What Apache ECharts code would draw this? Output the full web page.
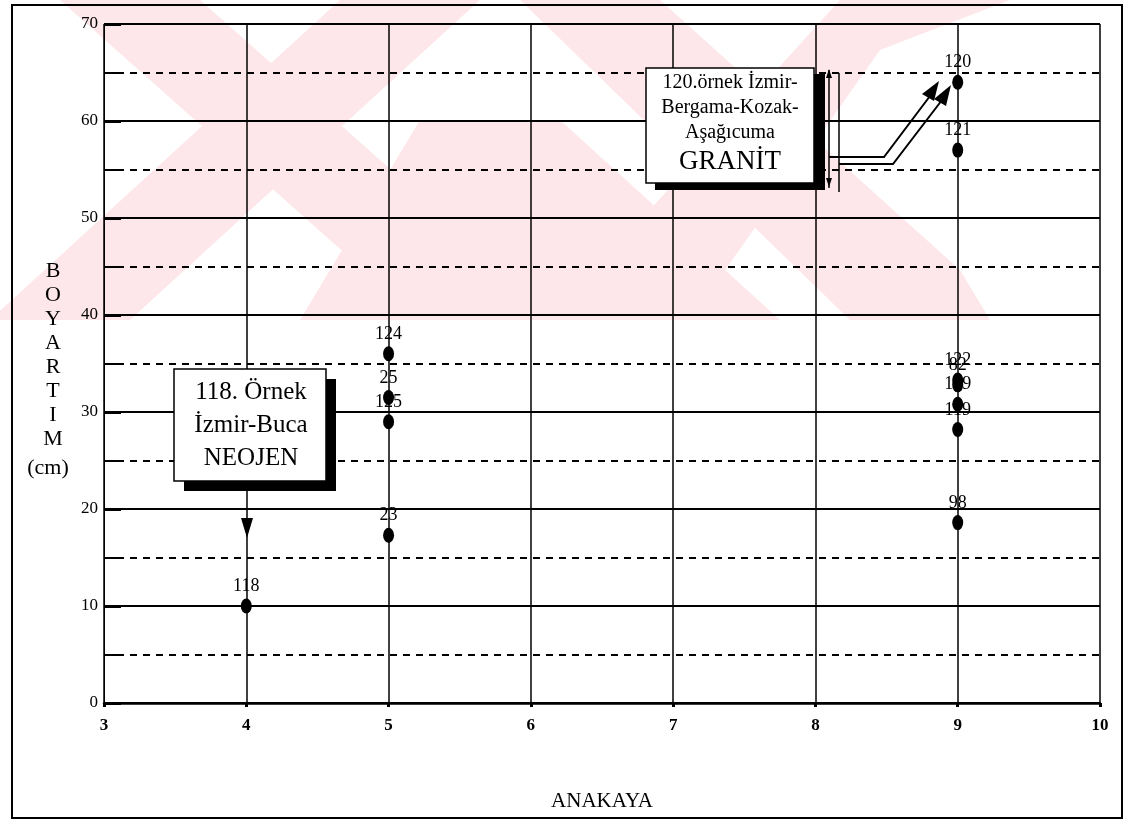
<!DOCTYPE html>
<html>
<head>
<meta charset="utf-8">
<script src="https://cdn.jsdelivr.net/npm/echarts@6/dist/echarts.min.js"></script>
<style>
html, body { margin: 0; padding: 0; background: #fff; }
#chart { width: 1130px; height: 823px; }
</style>
</head>
<body>
<div id="chart"></div>
<script>
// sample numbers, ANAKAYA (x) and BOYARTIM in cm (y)
const sampleNames = ['118', '124', '25', '125', '23', '120', '121', '122', '82', '109', '119', '98'];
const anakaya = [4, 5, 5, 5, 5, 9, 9, 9, 9, 9, 9, 9];
const boyartim = [10, 36, 31.5, 29, 17.3, 64, 57, 33.3, 32.8, 30.8, 28.2, 18.6];

const xTitle = 'ANAKAYA';
const yTitleLetters = ['B', 'O', 'Y', 'A', 'R', 'T', 'I', 'M'];
const yUnit = '(cm)';
const box1Lines = ['118. Örnek', 'İzmir-Buca', 'NEOJEN'];
const box2Lines = ['120.örnek İzmir-', 'Bergama-Kozak-', 'Aşağıcuma', 'GRANİT'];

const serif = '"Liberation Serif", "DejaVu Serif", serif';
const pink = '#fde7ea';

const points = sampleNames.map((n, i) => ({ name: n, value: [anakaya[i], boyartim[i]] }));

// faint watermark behind the plot (scan artefact)
const watermark = [
  { type: 'polygon', z: -10, shape: { points: [[60, 0], [200, 0], [560, 320], [420, 320]] }, style: { fill: pink } },
  { type: 'polygon', z: -10, shape: { points: [[340, 0], [480, 0], [130, 320], [-10, 320]] }, style: { fill: pink } },
  { type: 'polygon', z: -10, shape: { points: [[520, 0], [660, 0], [960, 270], [990, 320], [850, 320]] }, style: { fill: pink } },
  { type: 'polygon', z: -10, shape: { points: [[840, 0], [1010, 0], [880, 50], [690, 320], [550, 320]] }, style: { fill: pink } },
  { type: 'polygon', z: -10, shape: { points: [[420, 120], [560, 120], [780, 320], [300, 320]] }, style: { fill: pink } }
];

const textLine = (t, x, y, size) => ({
  type: 'text', z: 101, x: x, y: y,
  style: { text: t, font: size + 'px ' + serif, fill: '#000', align: 'center', verticalAlign: 'middle' }
});

const annotations = [
  // outer frame
  { type: 'rect', z: 50, shape: { x: 12, y: 5, width: 1110, height: 813 }, style: { fill: 'none', stroke: '#000', lineWidth: 2 } },
  // box 1
  { type: 'rect', z: 100, shape: { x: 184, y: 379, width: 152, height: 112 }, style: { fill: '#000' } },
  { type: 'rect', z: 100, shape: { x: 174, y: 369, width: 152, height: 112 }, style: { fill: '#fff', stroke: '#000', lineWidth: 1.5 } },
  textLine(box1Lines[0], 251, 392, 25),
  textLine(box1Lines[1], 251, 425, 25),
  textLine(box1Lines[2], 251, 458, 25),
  { type: 'polygon', z: 100, shape: { points: [[241, 518], [253, 518], [247, 538]] }, style: { fill: '#000' } },
  // box 2
  { type: 'rect', z: 100, shape: { x: 655, y: 74, width: 170, height: 116 }, style: { fill: '#000' } },
  { type: 'rect', z: 100, shape: { x: 646, y: 68, width: 168, height: 115 }, style: { fill: '#fff', stroke: '#000', lineWidth: 1.5 } },
  textLine(box2Lines[0], 730, 83, 20),
  textLine(box2Lines[1], 730, 108, 20),
  textLine(box2Lines[2], 730, 133, 20),
  textLine(box2Lines[3], 730, 162, 27),
  { type: 'line', z: 100, shape: { x1: 829, y1: 70, x2: 829, y2: 188 }, style: { stroke: '#000', lineWidth: 1.5 } },
  { type: 'polygon', z: 100, shape: { points: [[826, 78], [832, 78], [829, 69]] }, style: { fill: '#000' } },
  { type: 'polygon', z: 100, shape: { points: [[826, 178], [832, 178], [829, 187]] }, style: { fill: '#000' } },
  { type: 'line', z: 100, shape: { x1: 839, y1: 73, x2: 839, y2: 192 }, style: { stroke: '#000', lineWidth: 1.5 } },
  { type: 'polyline', z: 100, shape: { points: [[829, 157], [884, 157], [930, 96]] }, style: { stroke: '#000', lineWidth: 2, fill: 'none' } },
  { type: 'polyline', z: 100, shape: { points: [[839, 164], [893, 164], [942, 100]] }, style: { stroke: '#000', lineWidth: 2, fill: 'none' } },
  { type: 'polygon', z: 100, shape: { points: [[939, 81], [922, 94], [934, 101]] }, style: { fill: '#000' } },
  { type: 'polygon', z: 100, shape: { points: [[951, 85], [934, 99], [946, 106]] }, style: { fill: '#000' } },
  // y axis title, stacked letters
  ...yTitleLetters.map((c, i) => textLine(c, 53, 271 + i * 24, 22)),
  textLine(yUnit, 48, 468, 22)
];

const chart = echarts.init(document.getElementById('chart'));
chart.setOption({
  backgroundColor: '#fff',
  animation: false,
  grid: { left: 104, right: 30, top: 24, bottom: 120 },
  xAxis: {
    type: 'value', min: 3, max: 10, interval: 1,
    name: xTitle, nameLocation: 'middle', nameGap: 88,
    nameTextStyle: { fontFamily: serif, fontSize: 21, color: '#000' },
    axisLine: { lineStyle: { color: '#000', width: 2.5 } },
    axisTick: { show: true, length: 4, lineStyle: { color: '#000', width: 3 } },
    axisLabel: { fontFamily: serif, fontSize: 17, fontWeight: 'bold', color: '#000', margin: 14 },
    splitLine: { show: true, lineStyle: { color: '#000', width: 1.5 } }
  },
  yAxis: {
    type: 'value', min: 0, max: 70, interval: 10,
    axisLine: { show: true, lineStyle: { color: '#000', width: 1 } },
    axisTick: { show: true, inside: true, length: 17, lineStyle: { color: '#000', width: 3 } },
    minorTick: { show: true, splitNumber: 2, length: 16, lineStyle: { color: '#000', width: 2 } },
    axisLabel: { fontFamily: serif, fontSize: 17, color: '#000', margin: 6 },
    splitLine: { show: true, lineStyle: { color: '#000', width: 2 } },
    minorSplitLine: { show: true, lineStyle: { color: '#000', width: 2, type: [7, 6] } }
  },
  graphic: [...watermark, ...annotations],
  series: [{
    type: 'scatter',
    data: points,
    symbol: 'circle',
    symbolSize: [11, 15],
    itemStyle: { color: '#000', opacity: 1 },
    label: {
      show: true, position: 'top', distance: 3,
      formatter: p => p.name,
      fontFamily: serif, fontSize: 18, color: '#000'
    },
    z: 5
  }]
});
</script>
</body>
</html>
